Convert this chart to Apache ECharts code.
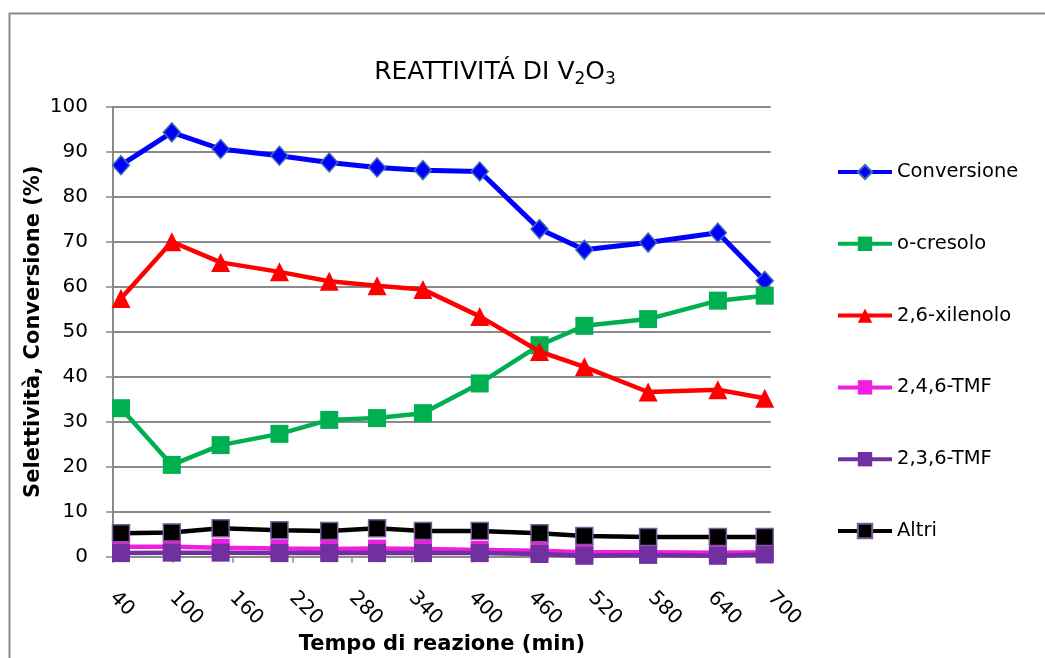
<!DOCTYPE html>
<html><head><meta charset="utf-8">
<script src="https://cdn.jsdelivr.net/npm/echarts@6/dist/echarts.min.js"></script>
<style>html,body{margin:0;padding:0;background:#fff}#c{width:1045px;height:658px}</style>
</head><body><div id="c"></div>
<script>
// ---- data ----
const times = [48, 99, 148, 207, 257, 305, 351, 408, 468, 513, 577, 647, 694];
const conversione = [87.0, 94.3, 90.6, 89.1, 87.6, 86.5, 85.9, 85.6, 72.8, 68.2, 69.8, 72.0, 61.3];
const oCresolo = [33.0, 20.4, 24.8, 27.3, 30.4, 30.8, 31.9, 38.5, 47.0, 51.3, 52.8, 56.9, 58.0];
const xilenolo26 = [57.4, 70.0, 65.4, 63.3, 61.2, 60.2, 59.4, 53.4, 45.6, 42.2, 36.6, 37.1, 35.2];
const tmf246 = [2.2, 2.2, 2.0, 1.8, 1.7, 1.8, 1.7, 1.5, 1.3, 1.0, 1.0, 0.9, 1.0];
const tmf236 = [0.8, 0.9, 0.9, 0.8, 0.8, 0.8, 0.8, 0.8, 0.6, 0.2, 0.4, 0.2, 0.5];
const altri = [5.2, 5.4, 6.3, 5.9, 5.7, 6.3, 5.7, 5.7, 5.2, 4.6, 4.4, 4.4, 4.4];
const seriesNames = ['Conversione', 'o-cresolo', '2,6-xilenolo', '2,4,6-TMF', '2,3,6-TMF', 'Altri'];
const xAxisRange = [40, 700, 60];
const yAxisRange = [0, 100, 10];
const titleParts = ['REATTIVITÁ DI V', '2', 'O', '3'];
const xTitle = 'Tempo di reazione (min)';
const yTitle = 'Selettività, Conversione (%)';

function pts(vals) { return times.map((t, i) => [t, vals[i]]); }

const FONT = 'DejaVu Sans';
const GRID = '#8a8a8a';

const styles = [
  { symbol: 'diamond', size: [17, 19], line: '#0000FF', fill: '#0000FF', border: '#3F6FA8', bw: 1.5, lw: 5 },
  { symbol: 'rect', size: 18, line: '#00B050', fill: '#00B050', border: '#00B050', bw: 0, lw: 4.5 },
  { symbol: 'triangle', size: 19, line: '#FF0000', fill: '#FF0000', border: '#FF0000', bw: 0, lw: 4.5 },
  { symbol: 'rect', size: 18, line: '#F01EE0', fill: '#F01EE0', border: '#F01EE0', bw: 0, lw: 4.5 },
  { symbol: 'rect', size: 18, line: '#7030A0', fill: '#7030A0', border: '#7030A0', bw: 0, lw: 4.5 },
  { symbol: 'rect', size: 17, line: '#000000', fill: '#000000', border: '#7A5C9C', bw: 1.5, lw: 4.5 }
];
const values = [conversione, oCresolo, xilenolo26, tmf246, tmf236, altri];

const series = seriesNames.map((name, i) => ({
  name: name,
  type: 'line',
  data: pts(values[i]),
  symbol: styles[i].symbol,
  symbolSize: styles[i].size,
  showAllSymbol: true,
  lineStyle: { color: styles[i].line, width: styles[i].lw },
  itemStyle: { color: styles[i].fill, borderColor: styles[i].border, borderWidth: styles[i].bw },
  emphasis: { disabled: true },
  z: 2 + i
}));

const chart = echarts.init(document.getElementById('c'), null, { renderer: 'canvas' });
chart.setOption({
  animation: false,
  backgroundColor: '#ffffff',
  grid: { left: 113, right: 274.3, top: 106.7, bottom: 101.3, outerBoundsMode: 'none', containLabel: false },
  legend: {
    data: seriesNames,
    orient: 'vertical',
    left: 831, top: 157,
    itemWidth: 54, itemHeight: 18, itemGap: 51.8,
    lineStyle: { width: 4 },
    textStyle: { fontFamily: FONT, fontSize: 19.5, color: '#000', lineHeight: 18 },
    selectedMode: false
  },
  xAxis: {
    type: 'value', min: xAxisRange[0], max: xAxisRange[1], interval: xAxisRange[2],
    axisLine: { show: true, lineStyle: { color: GRID, width: 2 } },
    axisTick: { show: true, length: 6, lineStyle: { color: GRID, width: 1.5 } },
    splitLine: { show: false },
    axisLabel: { rotate: -45, margin: 38, fontFamily: FONT, fontSize: 20, color: '#000' },
    name: xTitle, nameLocation: 'middle', nameGap: 77, nameMoveOverlap: false,
    nameTextStyle: { fontFamily: FONT, fontWeight: 'bold', fontSize: 21, color: '#000' }
  },
  yAxis: {
    type: 'value', min: yAxisRange[0], max: yAxisRange[1], interval: yAxisRange[2],
    axisLine: { show: true, lineStyle: { color: GRID, width: 2 } },
    axisTick: { show: true, length: 7, lineStyle: { color: GRID, width: 1.5 } },
    splitLine: { show: true, lineStyle: { color: GRID, width: 2 } },
    axisLabel: { margin: 25, fontFamily: FONT, fontSize: 20, color: '#000' },
    name: yTitle, nameLocation: 'middle', nameGap: 69, nameMoveOverlap: false,
    nameTextStyle: { fontFamily: FONT, fontWeight: 'bold', fontSize: 21, color: '#000' }
  },
  graphic: [
    { type: 'rect', silent: true, z: -10,
      shape: { x: 9.5, y: 13.5, width: 1300, height: 900 },
      style: { fill: 'none', stroke: '#8a8a8a', lineWidth: 2 } },
    { type: 'text', silent: true, x: 495, y: 72,
      style: {
        text: '{m|' + titleParts[0] + '}{s|' + titleParts[1] + '}{m|' + titleParts[2] + '}{s|' + titleParts[3] + '}',
        align: 'center', verticalAlign: 'middle',
        rich: {
          m: { fontFamily: FONT, fontSize: 25, lineHeight: 32, fill: '#000', color: '#000' },
          s: { fontFamily: FONT, fontSize: 17, lineHeight: 17, verticalAlign: 'bottom', fill: '#000', color: '#000' }
        }
      } }
  ],
  series: series
});
</script>
</body></html>
